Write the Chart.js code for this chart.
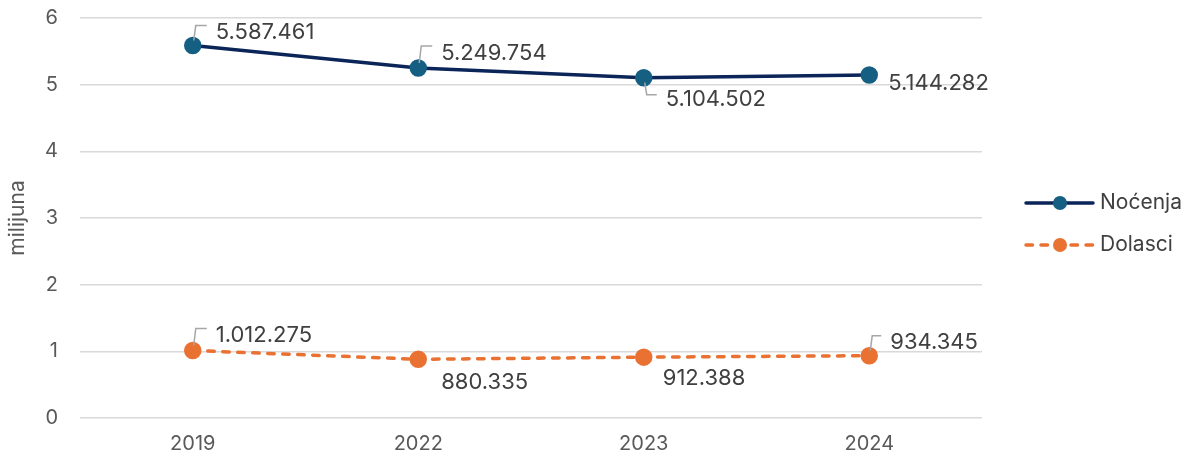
<!DOCTYPE html>
<html>
<head>
<meta charset="utf-8">
<script src="https://cdn.jsdelivr.net/npm/chart.js@4.4.1/dist/chart.umd.min.js"></script>
<style>
    html, body { margin: 0; padding: 0; background: #fff; }
    #wrap { width: 1196px; height: 459px; }
</style>
</head>
<body>
<div id="wrap"><canvas id="lineChart" width="1196" height="459"></canvas></div>
<script>
// Data
const years = ['2019', '2022', '2023', '2024'];
const nocenja = [5.587461, 5.249754, 5.104502, 5.144282];
const dolasci = [1.012275, 0.880335, 0.912388, 0.934345];
const yTicks = [0, 1, 2, 3, 4, 5, 6];

// label placement per point: [dx, dy, leader]
const nocenjaLabelPos = [[23, -13, true], [23, -15, true], [22, 22, true], [19, 8, false]];
const dolasciLabelPos = [[23, -15, true], [23, 23, false], [19, 21, false], [21, -13, true]];

const FONT = "Inter, 'Liberation Sans', Arial, sans-serif";

function fmt(v) {
    return Math.round(v * 1000000).toString().replace(/\B(?=(\d{3})+(?!\d))/g, '.');
}

// Data labels with small leader lines
const dataLabels = {
    id: 'dataLabels',
    afterDatasetsDraw(chart) {
        const ctx = chart.ctx;
        const posSets = [nocenjaLabelPos, dolasciLabelPos];
        ctx.save();
        ctx.font = '22px ' + FONT;
        ctx.textBaseline = 'middle';
        ctx.textAlign = 'left';
        chart.data.datasets.forEach((ds, di) => {
            const meta = chart.getDatasetMeta(di);
            meta.data.forEach((pt, i) => {
                const [dx, dy, leader] = posSets[di][i];
                const tx = pt.x + dx;
                const ty = pt.y + dy;
                if (leader) {
                    ctx.strokeStyle = '#a6a6a6';
                    ctx.lineWidth = 1.5;
                    ctx.beginPath();
                    const ly = dy < 0 ? ty - 7 : ty - 5;
                    ctx.moveTo(pt.x + 1, pt.y + (dy < 0 ? -5 : 5));
                    ctx.lineTo(pt.x + 3, ly);
                    ctx.lineTo(tx - 9, ly);
                    ctx.stroke();
                }
                ctx.fillStyle = '#404040';
                ctx.fillText(fmt(ds.data[i]), tx, ty);
            });
        });
        ctx.restore();
    }
};

// Legend drawn on the right, line + marker style
const sideLegend = {
    id: 'sideLegend',
    afterDraw(chart) {
        const ctx = chart.ctx;
        const x0 = chart.chartArea.right + 44;
        const rows = [203, 245];
        ctx.save();
        chart.data.datasets.forEach((ds, i) => {
            const y = rows[i];
            ctx.strokeStyle = ds.borderColor;
            ctx.lineWidth = ds.borderWidth;
            ctx.lineCap = 'round';
            ctx.setLineDash(ds.borderDash || []);
            ctx.beginPath();
            ctx.moveTo(x0, y);
            ctx.lineTo(x0 + 67, y);
            ctx.stroke();
            ctx.setLineDash([]);
            ctx.fillStyle = ds.pointBackgroundColor;
            ctx.beginPath();
            ctx.arc(x0 + 34, y, 7, 0, Math.PI * 2);
            ctx.fill();
            ctx.fillStyle = '#404040';
            ctx.font = '21px ' + FONT;
            ctx.textBaseline = 'middle';
            ctx.fillText(ds.label, x0 + 74, y);
        });
        ctx.restore();
    }
};

new Chart(document.getElementById('lineChart'), {
    type: 'line',
    data: {
        labels: years,
        datasets: [{
            label: 'Noćenja',
            data: nocenja,
            borderColor: '#0B2559',
            borderWidth: 3.5,
            borderCapStyle: 'round',
            pointBackgroundColor: '#156082',
            pointBorderColor: '#156082',
            pointRadius: 7,
            tension: 0
        }, {
            label: 'Dolasci',
            data: dolasci,
            borderColor: '#E97132',
            borderWidth: 3.5,
            borderDash: [6.5, 8.5],
            borderCapStyle: 'round',
            pointBackgroundColor: '#E97132',
            pointBorderColor: '#E97132',
            pointRadius: 7,
            tension: 0
        }]
    },
    options: {
        responsive: false,
        animation: false,
        layout: { padding: { top: 18, right: 214, bottom: 0, left: 0 } },
        plugins: {
            legend: { display: false },
            tooltip: { enabled: false }
        },
        scales: {
            y: {
                min: 0,
                max: 6,
                afterBuildTicks(axis) {
                    axis.ticks = yTicks.map(v => ({ value: v }));
                },
                afterFit(axis) {
                    axis.width = 80;
                    axis.paddingTop = 0;
                    axis.paddingBottom = 0;
                },
                border: { display: false },
                grid: { color: '#d9d9d9', lineWidth: 1.5, drawTicks: false },
                ticks: {
                    padding: 22,
                    color: '#595959',
                    font: { family: FONT, size: 20 }
                },
                title: {
                    display: true,
                    text: 'milijuna',
                    color: '#595959',
                    padding: { top: 5, bottom: 0 },
                    font: { family: FONT, size: 21 }
                }
            },
            x: {
                offset: true,
                afterFit(axis) { axis.height = 41; },
                border: { display: false },
                grid: { display: false, drawTicks: false },
                ticks: {
                    padding: 14,
                    color: '#595959',
                    font: { family: FONT, size: 20 }
                }
            }
        }
    },
    plugins: [dataLabels, sideLegend]
});
</script>
</body>
</html>
